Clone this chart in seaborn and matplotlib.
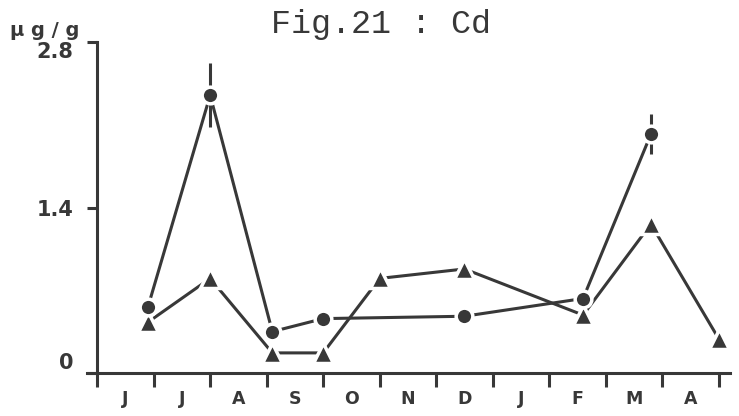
import numpy as np
import pandas as pd
import matplotlib.pyplot as plt
import seaborn as sns

# ── Data ────────────────────────────────────────────────────
months = ["J", "J", "A", "S", "O", "N", "D", "J", "F", "M", "A"]

# sampling positions in months from start of June
circle_x   = [0.9, 2.0, 3.1, 4.0, 6.5, 8.6, 9.8]
circle_y   = [0.56, 2.35, 0.35, 0.46, 0.48, 0.63, 2.02]
circle_err = [0.0, 0.27, 0.0, 0.0, 0.0, 0.0, 0.17]

tri_x = [0.9, 2.0, 3.1, 4.0, 5.0, 6.5, 8.6, 9.8, 11.0]
tri_y = [0.43, 0.80, 0.17, 0.17, 0.80, 0.88, 0.49, 1.26, 0.29]

ink = "#383838"

sns.set_style("ticks")
plt.rcParams["font.family"] = ["DejaVu Sans"]

fig = plt.figure(figsize=(7.39, 4.16), dpi=100)
ax = fig.add_axes([0.1177, 0.1034, 0.8701, 0.7956])

# error bars (no caps) under the markers
ax.errorbar(circle_x, circle_y, yerr=circle_err, fmt="none",
            ecolor=ink, elinewidth=2.2, capsize=0, zorder=1)

common = dict(color=ink, linewidth=2.2, markeredgecolor="white",
              markeredgewidth=2.5, clip_on=False, ax=ax)
sns.lineplot(x=tri_x, y=tri_y, marker="^", markersize=14, zorder=2, **common)
sns.lineplot(x=circle_x, y=circle_y, marker="o", markersize=12, zorder=3, **common)

# ── Axes styling ────────────────────────────────────────────
ax.set_xlim(-0.18, 11.2)
ax.set_ylim(0, 2.8)
sns.despine(ax=ax)
ax.spines["left"].set_position(("data", 0))
for s in ("left", "bottom"):
    ax.spines[s].set_linewidth(2.2)
    ax.spines[s].set_color(ink)

ax.set_xticks(np.arange(0, 12))
ax.set_xticklabels([])
ax.set_xticks(np.arange(0.5, 11), minor=True)
ax.set_xticklabels(months, minor=True, fontsize=12.5, fontweight="bold", color=ink)
ax.tick_params(axis="x", which="major", direction="out", length=10, width=2.2, color=ink)
ax.tick_params(axis="x", which="minor", length=0, pad=12)

ax.set_yticks([0, 1.4, 2.8])
ax.set_yticklabels(["0", "1.4", "2.8"], fontsize=15, fontweight="bold", color=ink)
ax.tick_params(axis="y", direction="out", length=7, width=2.2, color=ink, pad=10)
ylabels = ax.get_yticklabels()
ylabels[0].set_va("bottom")
ylabels[-1].set_va("top")

ax.set_xlabel("")
ax.set_ylabel("")

fig.text(0.5156, 0.94, "Fig.21 : Cd", family="Liberation Mono",
         fontsize=24, ha="center", va="center", color=ink)
fig.text(10 / 739, 1 - 30 / 416, "\u00b5 g / g", fontsize=14, fontweight="bold",
         ha="left", va="center", color=ink)

plt.savefig("out.png", dpi=100)
